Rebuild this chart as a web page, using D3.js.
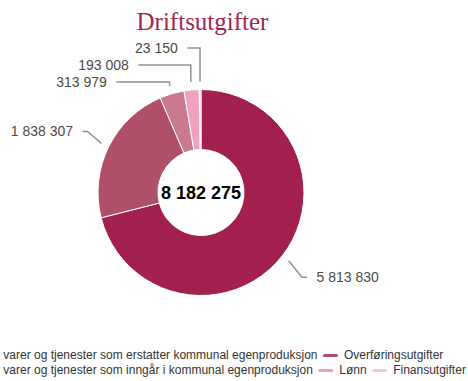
<!DOCTYPE html>
<html>
<head>
<meta charset="utf-8">
<script src="https://cdn.jsdelivr.net/npm/d3@7"></script>
<style>
  body { margin: 0; background: #fff; }
  svg { display: block; }
</style>
</head>
<body>
<svg id="chart" width="468" height="381"></svg>
<script>
// Driftsutgifter by type (NOK 1000)
const title = "Driftsutgifter";
const categories = [
  "Kjøp av varer og tjenester som erstatter kommunal egenproduksjon",
  "Overføringsutgifter",
  "Kjøp av varer og tjenester som inngår i kommunal egenproduksjon",
  "Lønn",
  "Finansutgifter"
];
const values = [5813830, 1838307, 313979, 193008, 23150];
const colors = ["#a12050", "#b05068", "#c97a8f", "#f0a0c3", "#f7c6da"];
const totalValue = 8182275;
const legendRows = [[0, 1], [2, 3, 4]];

const fmt = d3.formatLocale({ decimal: ",", thousands: " ", grouping: [3], currency: ["", ""] }).format(",d");

const svg = d3.select("#chart");
const cx = 201, cy = 192.5;
const outerR = 103, innerR = 43;

// title
svg.append("text")
  .attr("x", cx + 1.5).attr("y", 30)
  .attr("text-anchor", "middle")
  .attr("font-family", "'Liberation Serif', serif")
  .attr("font-size", 25)
  .attr("fill", "#a0284f")
  .text(title);

// donut
const pie = d3.pie().sort(null).value(d => d);
const arcs = pie(values);
const arc = d3.arc().innerRadius(innerR).outerRadius(outerR);

const g = svg.append("g").attr("transform", `translate(${cx},${cy})`);
g.selectAll("path.slice")
  .data(arcs)
  .join("path")
  .attr("class", "slice")
  .attr("d", arc)
  .attr("fill", (d, i) => colors[i])
  .attr("stroke", "#fff")
  .attr("stroke-width", 1)
  .attr("stroke-linejoin", "round");

// total in the hole
svg.append("text")
  .attr("x", cx).attr("y", cy)
  .attr("dy", "0.35em")
  .attr("text-anchor", "middle")
  .attr("font-family", "'Liberation Sans', Arial, sans-serif")
  .attr("font-weight", "bold")
  .attr("font-size", 18)
  .attr("fill", "#000")
  .text(fmt(totalValue));

// data labels: natural position on a ring, then spread to avoid overlaps
const labelR = 138;               // ring for natural label height
const ellA = 130.5, ellB = 145.3; // ring for label x
const spacing = 17;
const plotTop = 40, plotBottom = 330, halfLine = 8;
const yMin = plotTop + halfLine, yMax = plotBottom - halfLine;

const polar = (a, r) => [cx + r * Math.sin(a), cy - r * Math.cos(a)];

const labels = arcs.map((a, i) => {
  const mid = (a.startAngle + a.endAngle) / 2;
  const ny = cy - labelR * Math.cos(mid);
  return { i, mid, left: Math.sin(mid) < 0, ny, y: ny };
});

function place(c) {
  const mean = d3.mean(c, l => l.ny);
  let y0 = mean - (c.length - 1) * spacing / 2;
  y0 = Math.max(y0, yMin);
  y0 = Math.min(y0, yMax - (c.length - 1) * spacing);
  c.forEach((l, k) => { l.y = y0 + k * spacing; });
}

[true, false].forEach(side => {
  const group = labels.filter(l => l.left === side).sort((a, b) => a.ny - b.ny);
  let clusters = group.map(l => [l]);
  let merged = true;
  while (merged) {
    merged = false;
    clusters.forEach(place);
    for (let k = 0; k < clusters.length - 1; k++) {
      const c = clusters[k], d = clusters[k + 1];
      if (c[c.length - 1].y + spacing > d[0].y) {
        clusters.splice(k, 2, c.concat(d));
        merged = true;
        break;
      }
    }
  }
  clusters.forEach(place);
});

labels.forEach(l => {
  const s = l.left ? -1 : 1;
  const dy = l.y - cy;
  const ax = cx + s * ellA * Math.sqrt(Math.max(0, 1 - (dy / ellB) ** 2));
  const edge = polar(l.mid, outerR + 8);
  const shifted = Math.abs(l.y - l.ny) > 0.5;
  const elbow = shifted ? [edge[0], l.y] : [ax - s * 5, l.y];
  l.path = d3.line()([[ax, l.y], elbow, edge]);
  l.tx = ax + s * 9.5;
});

svg.append("g")
  .selectAll("path")
  .data(labels)
  .join("path")
  .attr("d", d => d.path)
  .attr("fill", "none")
  .attr("stroke", "#919191")
  .attr("stroke-width", 1.5);

svg.append("g")
  .selectAll("text")
  .data(labels)
  .join("text")
  .attr("x", d => d.tx)
  .attr("y", d => d.y)
  .attr("dy", "0.35em")
  .attr("text-anchor", d => d.left ? "end" : "start")
  .attr("font-family", "'Liberation Sans', Arial, sans-serif")
  .attr("font-size", 14)
  .attr("fill", "#4a4a4a")
  .text(d => fmt(values[d.i]));

// legend: left-aligned flowing rows
const legendX = -61.7, legendY = 359.3, rowH = 15;
const markerW = 15, markerGap = 6, itemGap = 5.5;
const legend = svg.append("g")
  .attr("font-family", "'Liberation Sans', Arial, sans-serif")
  .attr("font-size", 12);

legendRows.forEach((row, r) => {
  let x = legendX;
  const y = legendY + r * rowH;
  row.forEach(i => {
    legend.append("line")
      .attr("x1", x + 1.5).attr("x2", x + markerW - 1.5)
      .attr("y1", y - 3.8).attr("y2", y - 3.8)
      .attr("stroke", colors[i])
      .attr("stroke-width", 3)
      .attr("stroke-linecap", "round");
    const t = legend.append("text")
      .attr("x", x + markerW + markerGap)
      .attr("y", y)
      .attr("fill", "#333")
      .text(categories[i]);
    x += markerW + markerGap + t.node().getComputedTextLength() + itemGap;
  });
});
</script>
</body>
</html>
